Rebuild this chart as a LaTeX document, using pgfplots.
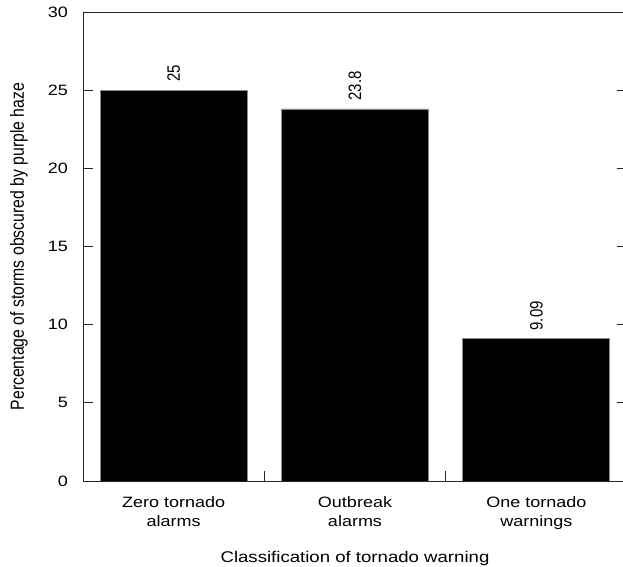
\documentclass[border=0pt]{standalone}
\usepackage{pgfplots}
\pgfplotsset{compat=1.18}
\usepackage{fontspec}
\setmainfont{Liberation Sans}
\newfontfamily\wide{Liberation Sans}[FakeStretch=1.2]
\begin{document}
\begin{tikzpicture}
\begin{axis}[
  at={(83bp,86bp)}, anchor=south west,
  scale only axis, width=544bp, height=469bp,
  xmin=-0.5, xmax=2.5, ymin=0, ymax=30,
  ybar, bar width=0.81,
  axis line style={black!85, line width=0.9bp},
  ytick={0,5,...,30},
  ytick pos=both, yticklabel pos=left,
  xtick pos=bottom,
  tick align=inside, major tick length=10bp,
  tick style={black!85, line width=0.9bp},
  xtick={0.5,1.5}, xticklabels={},
  extra x ticks={0,1,2},
  extra x tick labels={{Zero tornado\\alarms},{Outbreak\\alarms},{One tornado\\warnings}},
  extra x tick style={major tick length=0pt},
  yticklabel style={font=\wide\fontsize{15bp}{18bp}\selectfont, /pgf/number format/assume math mode=true, anchor=east, inner sep=0pt, xshift=-15bp},
  xticklabel style={font=\wide\fontsize{15bp}{19bp}\selectfont, align=center, anchor=north, inner sep=0pt, yshift=-15bp},
  xlabel={Classification of tornado warning},
  ylabel={Percentage of storms obscured by purple haze},
  every axis x label/.style={at={(rel axis cs:0.5,0)}, anchor=center, yshift=-77bp, font=\wide\fontsize{15.5bp}{19bp}\selectfont},
  every axis y label/.style={at={(rel axis cs:0,0.5)}, xshift=-64bp, rotate=90, yscale=1.2, anchor=center, font=\fontsize{15.8bp}{19bp}\selectfont},
  point meta=explicit symbolic,
  nodes near coords,
  nodes near coords style={rotate=90, yscale=1.2, anchor=west, inner xsep=8bp, inner ysep=0pt, font=\fontsize{15bp}{18bp}\selectfont, black},
]
\addplot[fill=black, draw=black!45, line width=0.8bp] coordinates {(0,25) [25] (1,23.8) [23.8] (2,9.09) [9.09]};
\end{axis}
\pgfresetboundingbox
\path (0,0) rectangle (623bp,567bp);
\end{tikzpicture}
\end{document}
